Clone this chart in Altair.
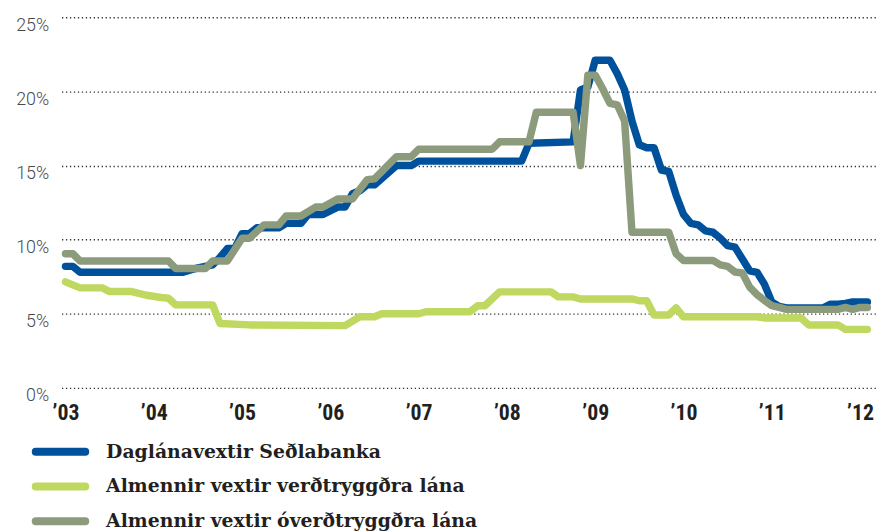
import altair as alt
import pandas as pd
import json

# ---- data (rates in %) ----
SERIES = [
    "Daglánavextir Seðlabanka",
    "Almennir vextir verðtryggðra lána",
    "Almennir vextir óverðtryggðra lána",
]
COLORS = ["#00519c", "#bfd860", "#8b9b7b"]

BLUE_MONTHS = ["2003-01", "2003-02", "2003-03", "2004-05", "2004-06", "2004-07", "2004-08",
               "2004-09", "2004-10", "2004-11", "2004-12", "2005-01", "2005-02", "2005-03",
               "2005-06", "2005-07", "2005-09", "2005-10", "2005-12", "2006-02", "2006-03",
               "2006-04", "2006-05", "2006-06", "2006-07", "2006-10", "2006-12", "2007-01",
               "2008-03", "2008-04", "2008-10", "2008-11", "2008-12", "2009-01", "2009-03",
               "2009-04", "2009-05", "2009-06", "2009-07", "2009-08", "2009-09", "2009-10",
               "2009-11", "2009-12", "2010-01", "2010-02", "2010-03", "2010-04", "2010-05",
               "2010-06", "2010-07", "2010-08", "2010-09", "2010-10", "2010-11", "2010-12",
               "2011-01", "2011-02", "2011-03", "2011-08", "2011-09", "2011-10", "2011-11",
               "2011-12", "2012-02"]
BLUE_VALUES = [8.2, 8.2, 7.8, 7.8, 7.95, 8.1, 8.2,
               8.3, 8.8, 9.4, 9.4, 10.4, 10.4, 10.8,
               10.8, 11.1, 11.1, 11.7, 11.7, 12.2, 12.2,
               13.1, 13.3, 13.7, 13.7, 15.0, 15.0, 15.3,
               15.3, 16.5, 16.6, 20.1, 20.3, 22.1, 22.1,
               21.2, 20.1, 18.0, 16.4, 16.2, 16.2, 14.7,
               14.6, 13.0, 11.7, 11.1, 11.0, 10.6, 10.5,
               10.1, 9.6, 9.5, 8.7, 7.9, 7.8, 7.0,
               5.8, 5.5, 5.4, 5.4, 5.65, 5.65, 5.7,
               5.8, 5.8]

GREEN_MONTHS = ["2003-01", "2003-03", "2003-06", "2003-07", "2003-10", "2003-12", "2004-02",
                "2004-03", "2004-04", "2004-09", "2004-10", "2005-02", "2006-03", "2006-05",
                "2006-07", "2006-08", "2007-01", "2007-02", "2007-08", "2007-09", "2007-10",
                "2007-12", "2008-07", "2008-08", "2008-10", "2008-11", "2009-06", "2009-07",
                "2009-08", "2009-09", "2009-11", "2009-12", "2010-01", "2010-11", "2010-12",
                "2011-05", "2011-06", "2011-10", "2011-11", "2012-02"]
GREEN_VALUES = [7.15, 6.75, 6.75, 6.5, 6.5, 6.25, 6.1,
                6.05, 5.6, 5.6, 4.35, 4.25, 4.2, 4.8,
                4.8, 5.0, 5.0, 5.14, 5.14, 5.54, 5.54,
                6.48, 6.48, 6.14, 6.14, 6.0, 6.0, 5.88,
                5.88, 4.92, 4.92, 5.4, 4.8, 4.8, 4.72,
                4.72, 4.25, 4.25, 3.95, 3.95]

GRAY_MONTHS = ["2003-01", "2003-02", "2003-03", "2004-03", "2004-04", "2004-08", "2004-09",
               "2004-11", "2005-01", "2005-02", "2005-04", "2005-06", "2005-07", "2005-09",
               "2005-11", "2005-12", "2006-02", "2006-04", "2006-06", "2006-07", "2006-10",
               "2006-12", "2007-01", "2007-11", "2007-12", "2008-04", "2008-05", "2008-10",
               "2008-11", "2008-12", "2009-01", "2009-02", "2009-03", "2009-04", "2009-05",
               "2009-06", "2009-11", "2009-12", "2010-01", "2010-05", "2010-06", "2010-07",
               "2010-08", "2010-09", "2010-10", "2010-11", "2010-12", "2011-01", "2011-02",
               "2011-03", "2011-10", "2011-11", "2011-12", "2012-01", "2012-02"]
GRAY_VALUES = [9.05, 9.05, 8.56, 8.56, 8.05, 8.05, 8.56,
               8.56, 10.1, 10.1, 11.0, 11.0, 11.6, 11.6,
               12.2, 12.2, 12.75, 12.75, 14.05, 14.1, 15.6,
               15.6, 16.1, 16.1, 16.6, 16.6, 18.6, 18.6,
               15.0, 21.1, 21.1, 20.2, 19.2, 19.1, 18.0,
               10.5, 10.5, 9.05, 8.6, 8.6, 8.3, 8.2,
               7.82, 7.75, 6.8, 6.3, 5.9, 5.55, 5.43,
               5.3, 5.3, 5.43, 5.3, 5.43, 5.43]

YEAR_TICKS = [2003, 2004, 2005, 2006, 2007, 2008, 2009, 2010, 2011, 2012]
YEAR_LABELS = ["’03", "’04", "’05", "’06", "’07", "’08", "’09", "’10", "’11", "’12"]
Y_TICKS = [0, 5, 10, 15, 20, 25]


def to_frame(name, months, values):
    rows = []
    for mo, v in zip(months, values):
        y, m = mo.split("-")
        rows.append({"series": name, "t": int(y) + (int(m) - 1) / 12.0, "rate": v})
    return rows


rows = (to_frame(SERIES[0], BLUE_MONTHS, BLUE_VALUES)
        + to_frame(SERIES[1], GREEN_MONTHS, GREEN_VALUES)
        + to_frame(SERIES[2], GRAY_MONTHS, GRAY_VALUES))
df = pd.DataFrame(rows)
df["order"] = range(len(df))
legend_df = pd.DataFrame({"series": SERIES})

label_expr = json.dumps(YEAR_LABELS, ensure_ascii=False) + "[round(datum.value) - 2003]"
color_scale = alt.Scale(domain=SERIES, range=COLORS)

lines = alt.Chart(df).mark_line(
    strokeWidth=7.5, strokeCap="round", strokeJoin="round"
).encode(
    x=alt.X("t:Q",
            scale=alt.Scale(domain=[2002.955, 2012.192], nice=False, zero=False),
            axis=alt.Axis(values=YEAR_TICKS, labelExpr=label_expr, title=None,
                          grid=False, domain=False, ticks=False, tickSize=0,
                          labelFont="Liberation Sans Narrow, Roboto Condensed, Liberation Sans",
                          labelFontWeight="bold", labelFontSize=22, labelColor="#231f20",
                          labelBaseline="alphabetic", labelPadding=32, labelAlign="center",
                          labelFlush=False, labelOverlap=False)),
    y=alt.Y("rate:Q",
            scale=alt.Scale(domain=[0, 25], nice=False),
            axis=alt.Axis(values=Y_TICKS, labelExpr="datum.value + '%'", title=None,
                          grid=True, gridDash=[1.3, 2.7], gridColor="#333333", gridWidth=1.4,
                          domain=False, ticks=False, tickSize=0,
                          labelFont="Roboto, Liberation Sans", labelFontWeight=300,
                          labelFontSize=18, labelColor="#4a4a4a",
                          labelBaseline="alphabetic", labelOffset=13, labelPadding=13,
                          labelFlush=False, labelOverlap=False)),
    color=alt.Color("series:N", scale=color_scale, legend=None),
    order=alt.Order("order:Q"),
)

# legend below the plot: one row per series, placed by a point scale
legend_y = alt.Y("series:N", axis=None,
                 scale=alt.Scale(type="point", domain=SERIES, range=[438.5, 508.5], padding=0))

legend_symbols = alt.Chart(legend_df).mark_rule(
    strokeWidth=8, strokeCap="round"
).encode(
    x=alt.value(-26), x2=alt.value(24), y=legend_y,
    color=alt.Color("series:N", scale=color_scale, legend=None),
)

legend_labels = alt.Chart(legend_df).mark_text(
    align="left", baseline="middle", font="DejaVu Serif", fontWeight="bold",
    fontSize=19, color="#231f20"
).encode(
    x=alt.value(45), y=legend_y, text="series:N",
)

chart = alt.layer(
    lines, alt.layer(legend_symbols, legend_labels)
).resolve_scale(
    y="independent"
).properties(
    width=823,
    height=374,
    autosize=alt.AutoSizeParams(type="none"),
    padding={"left": 54, "top": 7, "right": 0, "bottom": 142},
).configure_view(stroke=None)

chart.save("out.html", embed_options={"renderer": "svg", "actions": False})
